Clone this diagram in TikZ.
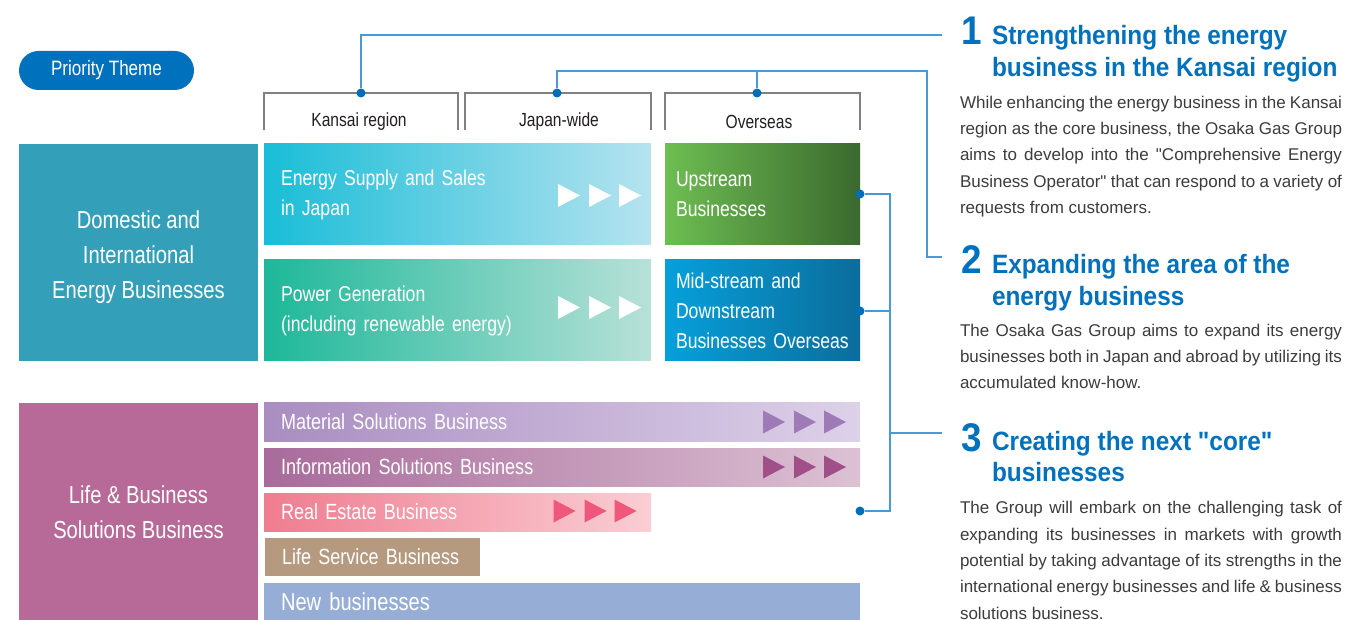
\documentclass[tikz,border=0pt]{standalone}
\usepackage{fontspec}
\setmainfont{Liberation Sans}[Ligatures=TeXOff]
\newfontfamily\condf{Liberation Sans}[FakeStretch=0.82, Ligatures=TeXOff]
\newfontfamily\ttlf{Liberation Sans}[FakeStretch=0.92, Ligatures=TeXOff]
\newcommand\setfs[2]{\fontsize{#1}{#2}\selectfont}
\newcommand\jl[1]{\makebox[382pt][s]{#1}}
\definecolor{prio}{HTML}{0071BC}
\definecolor{linec}{HTML}{4A98D6}
\definecolor{dotc}{HTML}{006DB8}
\definecolor{hdrc}{HTML}{808080}
\definecolor{hdrt}{HTML}{231F20}
\definecolor{domc}{HTML}{339FB9}
\definecolor{lifec}{HTML}{B76A97}
\definecolor{esl}{HTML}{19BDD7}
\definecolor{esr}{HTML}{B6E3EF}
\definecolor{pgl}{HTML}{1DB899}
\definecolor{pgr}{HTML}{B8E1D8}
\definecolor{upl}{HTML}{6DBE52}
\definecolor{upr}{HTML}{3B692E}
\definecolor{mdl}{HTML}{06A0DB}
\definecolor{mdr}{HTML}{0B6D9B}
\definecolor{matl}{HTML}{A98DC1}
\definecolor{matr}{HTML}{DDD1E9}
\definecolor{matt}{HTML}{9E7AB6}
\definecolor{infl}{HTML}{A86B9B}
\definecolor{infr}{HTML}{DCC1D3}
\definecolor{inft}{HTML}{A14F89}
\definecolor{rel}{HTML}{F07C90}
\definecolor{rer}{HTML}{F9CED4}
\definecolor{ret}{HTML}{EF587A}
\definecolor{lsc}{HTML}{B59A80}
\definecolor{newc}{HTML}{96ADD6}
\definecolor{tblue}{HTML}{0071BC}
\definecolor{bodyc}{HTML}{3C3C3C}
\tikzset{
  pill/.style={fill=prio, rounded corners=19.5pt, minimum width=175pt, minimum height=39pt, text=white, font=\condf\setfs{20.8}{24}},
  hdrbox/.style={minimum height=37pt},
  hdr/.style={draw=hdrc, line width=1.4pt},
  hdrtext/.style={text=hdrt, font=\condf\setfs{19}{22}},
  catbox/.style={minimum width=239pt},
  cattext/.style={text=white, align=center, font=\condf\setfs{24.6}{35}},
  ebox/.style={minimum height=101pt, text=white, align=left, font=\condf\setfs{21.5}{30}},
  bar/.style={minimum height=38pt, inner xsep=17pt, text=white, align=left, font=\condf\setfs{22}{26}},
  dot/.style={circle, fill=dotc, minimum size=9pt, inner sep=0pt},
  conn/.style={draw=linec, line width=1.5pt},
  num/.style={text=tblue, font=\ttlf\bfseries\setfs{40}{40}},
  ttl/.style={text=tblue, align=left, font=\ttlf\bfseries\setfs{26.5}{32}},
  bodyt/.style={text=bodyc, align=left, font=\setfs{17}{26.3}},
  tris/.pic={\path[pic actions] (0,-11.5) -- (22,0) -- (0,11.5) -- cycle
      (31,-11.5) -- (53,0) -- (31,11.5) -- cycle
      (61,-11.5) -- (83,0) -- (61,11.5) -- cycle;}
}
\begin{document}
\begin{tikzpicture}[x=1pt,y=-1pt, every node/.style={inner sep=0pt, outer sep=0pt}]
\useasboundingbox (0,0) rectangle (1345,620);
\fill[white] (0,0) rectangle (1345,620);

% priority theme
\node[pill] (prio) at (106.5,70.5) {Priority Theme};

% headers
\node[hdrbox, minimum width=194pt] (hk) at (361,111.5) {};
\node[hdrbox, minimum width=186pt] (hj) at (558,111.5) {};
\node[hdrbox, minimum width=195pt] (ho) at (762.5,111.5) {};
\draw[hdr] (hk.south west) |- (hk.north east) -- (hk.south east);
\draw[hdr] (hj.south west) |- (hj.north east) -- (hj.south east);
\draw[hdr] (ho.south west) |- (ho.north east) -- (ho.south east);
\node[hdrtext] (hkt) at (359,122) {Kansai region};
\node[hdrtext] (hjt) at (559,122) {Japan-wide};
\node[hdrtext] (hot) at (759,122) {Overseas};

% category boxes
\node[catbox, fill=domc, minimum height=217pt] (dom) at (138.5,252.5) {};
\node[cattext] (domt) at (138.5,257.5) {Domestic and\\International\\Energy Businesses};
\node[catbox, fill=lifec, minimum height=219pt] (life) at (138.5,512.5) {};
\node[cattext] (lifet) at (138.5,512.5) {Life \& Business\\Solutions Business};

% energy boxes
\node[ebox, left color=esl, right color=esr, minimum width=387pt, text width=353pt, inner xsep=17pt] (es) at (457.5,194.5) {Energy Supply and Sales\\in Japan};
\node[ebox, left color=pgl, right color=pgr, minimum width=387pt, text width=353pt, inner xsep=17pt] (pg) at (457.5,310.5) {Power Generation\\(including renewable energy)};
\node[ebox, left color=upl, right color=upr, minimum width=195pt, text width=173pt, inner xsep=11pt] (up) at (762.5,194.5) {Upstream\\Businesses};
\node[ebox, left color=mdl, right color=mdr, minimum width=195pt, text width=173pt, inner xsep=11pt] (md) at (762.5,310.5) {Mid-stream and\\Downstream\\Businesses Overseas};
\pic[fill=white] at (558,195.5) {tris};
\pic[fill=white] at (558,307.5) {tris};

% bars
\node[bar, left color=matl, right color=matr, minimum width=596pt, text width=562pt] (mat) at (562,422) {Material Solutions Business};
\node[bar, left color=infl, right color=infr, minimum width=596pt, text width=562pt] (inf) at (562,467) {Information Solutions Business};
\node[bar, left color=rel, right color=rer, minimum width=387pt, text width=353pt] (re) at (457.5,512) {Real Estate Business};
\node[bar, fill=lsc, minimum width=215pt, text width=181pt] (ls) at (372.5,557) {Life Service Business};
\node[bar, fill=newc, minimum width=596pt, text width=562pt, minimum height=39pt, font=\condf\setfs{24.5}{28}] (nb) at (562,602) {New businesses};
\pic[fill=matt] at (763,422) {tris};
\pic[fill=inft] at (763,467) {tris};
\pic[fill=ret] at (553.5,511) {tris};

% connector endpoints
\coordinate (e1) at (942,35);
\coordinate (k2) at (927,71);
\coordinate (e2) at (942,257);
\coordinate (v3t) at (890,194);
\coordinate (v3b) at (890,511);
\coordinate (e3) at (942,433);

% dots
\node[dot] (d1) at (361,93) {};
\node[dot] (d2) at (557,93) {};
\node[dot] (d3) at (757,93) {};
\node[dot] (dU) at (860,194) {};
\node[dot] (dM) at (860,311) {};
\node[dot] (dR) at (860,511) {};

% connectors
\draw[conn] (d1) |- (e1);
\draw[conn] (d2) |- (k2) |- (e2);
\draw[conn] (d3) -- (d3 |- k2);
\draw[conn] (dU) -- (v3t) -- (v3b) -- (dR);
\draw[conn] (dM) -- (dM -| v3t);
\draw[conn] (e3 -| v3t) -- (e3);

% right texts (base anchor = last line)
\node[num, anchor=base west] (n1) at (961,45) {1};
\node[ttl, anchor=base west] (t1) at (992,76.5) {Strengthening the energy\\business in the Kansai region};
\node[bodyt, anchor=base west] (b1) at (960,213.5) {\jl{While enhancing the energy business in the Kansai}\\\jl{region as the core business, the Osaka Gas Group}\\\jl{aims to develop into the "Comprehensive Energy}\\\jl{Business Operator" that can respond to a variety of}\\requests from customers.};

\node[num, anchor=base west] (n2) at (961,274) {2};
\node[ttl, anchor=base west] (t2) at (992,305.5) {Expanding the area of the\\energy business};
\node[bodyt, anchor=base west] (b2) at (960,389) {\jl{The Osaka Gas Group aims to expand its energy}\\\jl{businesses both in Japan and abroad by utilizing its}\\accumulated know-how.};

\node[num, anchor=base west] (n3) at (961,451) {3};
\node[ttl, anchor=base west] (t3) at (992,482) {Creating the next "core"\\businesses};
\node[bodyt, anchor=base west] (b3) at (960,619) {\jl{The Group will embark on the challenging task of}\\\jl{expanding its businesses in markets with growth}\\\jl{potential by taking advantage of its strengths in the}\\\jl{international energy businesses and life \& business}\\solutions business.};
\end{tikzpicture}
\end{document}
